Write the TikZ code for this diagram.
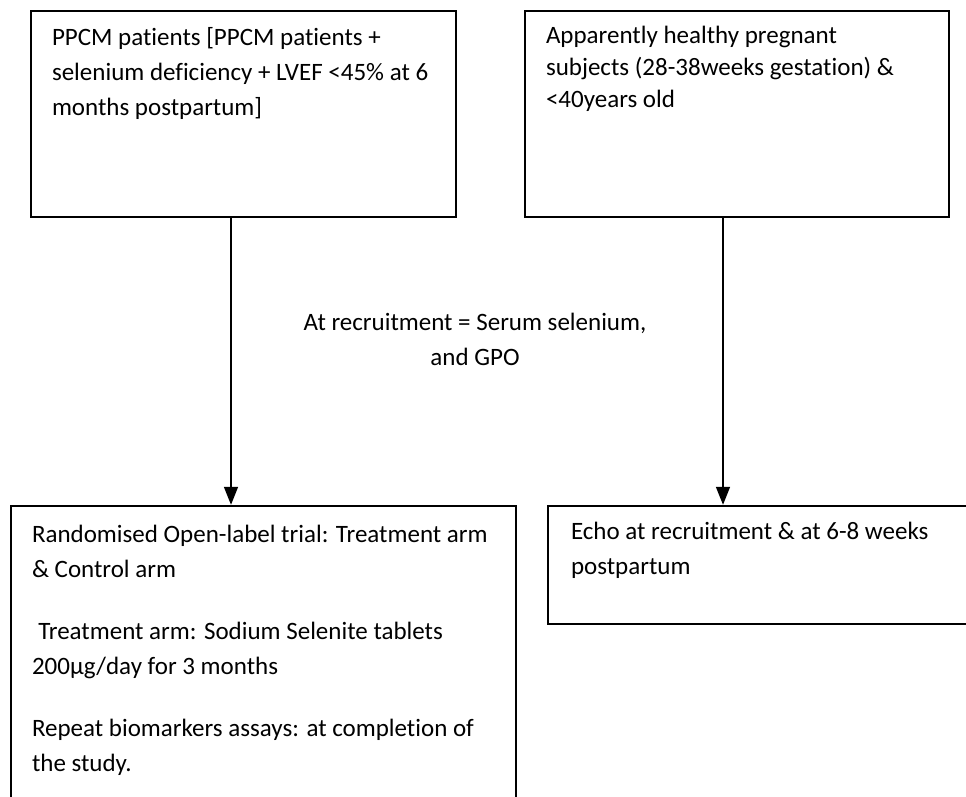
\documentclass[tikz,border=0pt]{standalone}
\usepackage{fontspec}
\setmainfont{Carlito}[Ligatures={NoCommon}]
\usetikzlibrary{arrows.meta,positioning,calc}

\begin{document}
\begin{tikzpicture}[x=1pt, y=1pt,
    box/.style={rectangle, draw=black, line width=2.4pt, inner sep=0pt},
    txt/.style={anchor=north west, inner sep=0pt, align=left, font=\fontsize{25}{35}\selectfont},
    note/.style={align=center, inner sep=0pt, font=\fontsize{25}{35}\selectfont},
    arr/.style={-{Triangle[length=18pt, width=14pt]}, line width=1.6pt}
  ]
    \useasboundingbox (0,0) rectangle (966,-797);
    \clip (0,0) rectangle (966,-797);

    % Groups at the top
    \node[box, minimum width=425pt, minimum height=206pt] (ppcm)    at (243.5,-114) {};
    \node[box, minimum width=424pt, minimum height=206pt] (healthy) at (737,-114)   {};
    \node[txt] (ppcmtext) at ([shift={(22,-17)}]ppcm.north west)
      {PPCM patients [PPCM patients +\\selenium deficiency + LVEF <45\% at 6\\months postpartum]};
    \node[txt, font=\fontsize{25}{32}\selectfont] (healthytext) at ([shift={(22,-16)}]healthy.north west)
      {Apparently healthy pregnant\\subjects (28-38weeks gestation) \&\\<40years old};

    % Follow-up boxes
    \node[box, minimum width=505pt, minimum height=324pt] (trial) at (263.5,-668) {};
    \node[box, minimum width=452pt, minimum height=118pt] (echo)  at (774,-565)   {};
    \node[txt] (trialtext) at ([shift={(22,-20)}]trial.north west)
      {Randomised Open-label trial: Treatment arm\\\& Control arm\\[27pt]
       \hspace*{0.25em}Treatment arm: Sodium Selenite tablets\\200µg/day for 3 months\\[27pt]
       Repeat biomarkers assays: at completion of\\the study.};
    \node[txt] (echotext) at ([shift={(24,-17)}]echo.north west)
      {Echo at recruitment \& at 6-8 weeks\\postpartum};

    % Measurements between the rows
    \node[note] (recruit) at (475,-339) {At recruitment = Serum selenium,\\and GPO};

    \draw[arr] ([xshift=-12.5pt]ppcm.south) -- ([xshift=-12.5pt]ppcm.south |- trial.north);
    \draw[arr] ([xshift=-14pt]healthy.south) -- ([xshift=-14pt]healthy.south |- echo.north);
\end{tikzpicture}
\end{document}
